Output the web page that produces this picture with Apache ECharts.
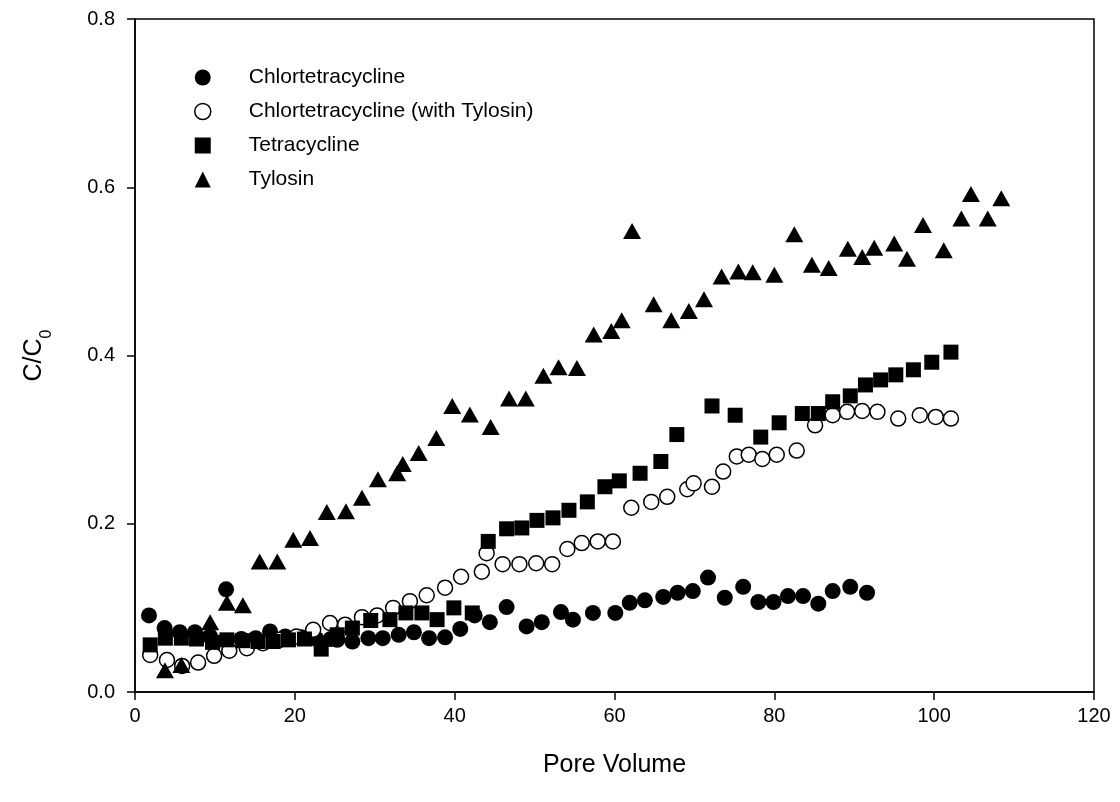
<!DOCTYPE html>
<html>
<head>
<meta charset="utf-8">
<script src="https://cdn.jsdelivr.net/npm/echarts@6/dist/echarts.min.js"></script>
<style>
html,body{margin:0;padding:0;background:#fff;}
#chart{width:1120px;height:802px;}
</style>
</head>
<body>
<div id="chart"></div>
<script>
// ---- Data (Pore Volume, C/C0) ----
const seriesNames = ['Chlortetracycline', 'Chlortetracycline (with Tylosin)', 'Tetracycline', 'Tylosin'];
const xTicks = [0, 20, 40, 60, 80, 100, 120];
const yTicks = [0.0, 0.2, 0.4, 0.6, 0.8];

const chlortetracycline = [
  [1.75,0.091],[3.7,0.076],[5.6,0.071],[7.5,0.071],[9.4,0.066],[11.4,0.122],[13.3,0.063],[15.1,0.064],
  [16.9,0.072],[18.8,0.066],[20.8,0.065],[22.7,0.063],[24.5,0.063],[25.3,0.062],[27.2,0.060],[29.2,0.064],
  [31.0,0.064],[33.0,0.068],[34.9,0.071],[36.8,0.064],[38.8,0.065],[40.7,0.075],[42.5,0.091],[44.4,0.083],
  [46.5,0.101],[49.0,0.078],[50.9,0.083],[53.3,0.095],[54.8,0.086],[57.3,0.094],[60.1,0.094],[61.9,0.106],
  [63.8,0.109],[66.1,0.113],[67.9,0.118],[69.8,0.120],[71.7,0.136],[73.8,0.112],[76.1,0.125],[78.0,0.107],
  [79.9,0.107],[81.7,0.114],[83.6,0.114],[85.5,0.105],[87.3,0.120],[89.5,0.125],[91.6,0.118]
];
const chlortetracyclineWithTylosin = [
  [1.9,0.044],[4.0,0.038],[5.9,0.031],[7.9,0.035],[9.9,0.043],[11.8,0.049],[14.0,0.052],[16.0,0.058],
  [18.1,0.062],[20.2,0.066],[22.3,0.074],[24.4,0.082],[26.3,0.080],[28.4,0.089],[30.3,0.091],[32.3,0.100],
  [34.4,0.108],[36.5,0.115],[38.8,0.124],[40.8,0.137],[43.4,0.143],[44.0,0.165],[46.0,0.152],[48.1,0.152],
  [50.2,0.153],[52.2,0.152],[54.1,0.170],[55.9,0.177],[57.9,0.179],[59.8,0.179],[62.1,0.219],[64.6,0.226],
  [66.6,0.232],[69.1,0.241],[69.9,0.248],[72.2,0.244],[73.6,0.262],[75.3,0.280],[76.8,0.282],[78.5,0.277],
  [80.3,0.282],[82.8,0.287],[85.1,0.317],[87.3,0.329],[89.1,0.333],[91.0,0.334],[92.9,0.333],[95.5,0.325],
  [98.2,0.329],[100.2,0.327],[102.1,0.325]
];
const tetracycline = [
  [1.9,0.056],[3.8,0.064],[5.8,0.064],[7.7,0.063],[9.7,0.059],[11.5,0.062],[13.5,0.061],[15.4,0.060],
  [17.3,0.060],[19.2,0.062],[21.2,0.063],[23.3,0.051],[25.3,0.068],[27.2,0.076],[29.5,0.085],[31.9,0.086],
  [33.9,0.094],[35.9,0.094],[37.8,0.086],[39.9,0.100],[42.2,0.094],[44.2,0.179],[46.5,0.194],[48.4,0.195],
  [50.3,0.204],[52.3,0.207],[54.3,0.216],[56.6,0.226],[58.8,0.244],[60.6,0.251],[63.2,0.260],[65.8,0.274],
  [67.8,0.306],[72.2,0.340],[75.1,0.329],[78.3,0.303],[80.6,0.320],[83.5,0.331],[85.5,0.331],[87.3,0.345],
  [89.5,0.352],[91.4,0.365],[93.3,0.371],[95.2,0.377],[97.4,0.383],[99.7,0.392],[102.1,0.404]
];
const tylosin = [
  [3.75,0.026],[5.8,0.032],[9.4,0.083],[11.5,0.106],[13.5,0.103],[15.6,0.155],[17.8,0.155],[19.8,0.181],
  [21.9,0.183],[24.0,0.214],[26.4,0.215],[28.4,0.231],[30.4,0.253],[32.8,0.260],[33.5,0.271],[35.5,0.284],
  [37.7,0.302],[39.7,0.340],[41.9,0.330],[44.5,0.315],[46.8,0.349],[48.9,0.349],[51.1,0.376],[53.0,0.386],
  [55.3,0.385],[57.4,0.425],[59.6,0.429],[60.9,0.442],[62.2,0.548],[64.9,0.461],[67.1,0.442],[69.3,0.453],
  [71.2,0.467],[73.4,0.494],[75.5,0.500],[77.3,0.499],[80.0,0.496],[82.5,0.544],[84.7,0.508],[86.8,0.504],
  [89.2,0.527],[91.0,0.517],[92.5,0.528],[95.0,0.533],[96.6,0.515],[98.6,0.555],[101.2,0.525],[103.4,0.563],
  [104.6,0.592],[106.7,0.563],[108.4,0.587]
];

const FONT = '"Liberation Sans", Arial, sans-serif';
const chart = echarts.init(document.getElementById('chart'), null, {renderer: 'canvas'});

const option = {
  backgroundColor: '#fff',
  animation: false,
  textStyle: {fontFamily: FONT, color: '#000'},
  grid: {left: 135, right: 26, top: 19, bottom: 110, show: true, borderColor: '#000', borderWidth: 1.5, backgroundColor: 'transparent'},
  legend: {
    orient: 'vertical', left: 189, top: 62, itemWidth: 16, itemHeight: 16, itemGap: 13,
    textStyle: {fontFamily: FONT, fontSize: 21, color: '#000', padding: [0, 0, 0, 33]},
    data: [
      {name: seriesNames[0], icon: 'circle', itemStyle: {color: '#000', borderWidth: 0}},
      {name: seriesNames[1], icon: 'circle', itemStyle: {color: '#fff', borderColor: '#000', borderWidth: 1.5}},
      {name: seriesNames[2], icon: 'rect', itemStyle: {color: '#000', borderWidth: 0}},
      {name: seriesNames[3], icon: 'triangle', itemStyle: {color: '#000', borderWidth: 0}}
    ]
  },
  xAxis: {
    type: 'value', min: xTicks[0], max: xTicks[xTicks.length - 1], interval: 20,
    name: 'Pore Volume', nameLocation: 'middle', nameGap: 61,
    nameTextStyle: {fontFamily: FONT, fontSize: 25, color: '#000'},
    axisLine: {show: true, lineStyle: {color: '#000', width: 1.5}},
    axisTick: {show: true, length: 8, lineStyle: {color: '#000', width: 1.5}},
    axisLabel: {fontFamily: FONT, fontSize: 20, color: '#000', margin: 14},
    splitLine: {show: false}
  },
  yAxis: {
    type: 'value', min: yTicks[0], max: yTicks[yTicks.length - 1], interval: 0.2,
    name: '{a|C/C}{b|0}', nameLocation: 'middle', nameGap: 88,
    nameTextStyle: {
      fontFamily: FONT, color: '#000',
      rich: {
        a: {fontFamily: FONT, fontSize: 25, color: '#000'},
        b: {fontFamily: FONT, fontSize: 16, color: '#000', verticalAlign: 'bottom', padding: [0, 0, -8, 0]}
      }
    },
    axisLine: {show: true, lineStyle: {color: '#000', width: 1.5}},
    axisTick: {show: true, length: 8, lineStyle: {color: '#000', width: 1.5}},
    axisLabel: {fontFamily: FONT, fontSize: 20, color: '#000', margin: 20, formatter: v => v.toFixed(1)},
    splitLine: {show: false}
  },
  series: [
    {name: seriesNames[0], type: 'scatter', symbol: 'circle', symbolSize: 16,
     itemStyle: {color: '#000', opacity: 1}, data: chlortetracycline},
    {name: seriesNames[1], type: 'scatter', symbol: 'circle', symbolSize: 15,
     itemStyle: {color: '#fff', borderColor: '#000', borderWidth: 1.5, opacity: 1}, data: chlortetracyclineWithTylosin},
    {name: seriesNames[2], type: 'scatter', symbol: 'rect', symbolSize: 15,
     itemStyle: {color: '#000', opacity: 1}, data: tetracycline},
    {name: seriesNames[3], type: 'scatter', symbol: 'triangle', symbolSize: [18, 16],
     itemStyle: {color: '#000', opacity: 1}, data: tylosin}
  ]
};
chart.setOption(option);
</script>
</body>
</html>
